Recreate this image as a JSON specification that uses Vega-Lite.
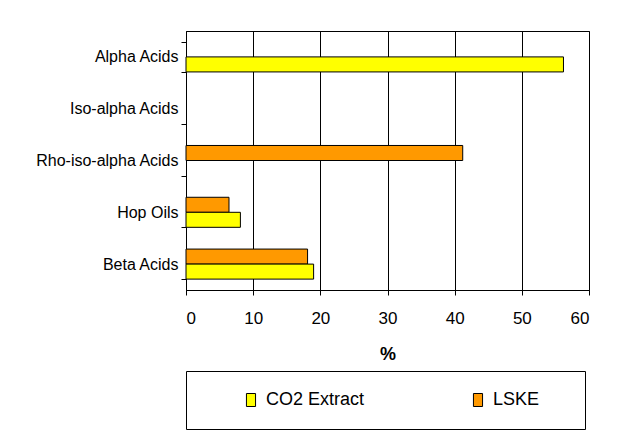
{
  "$schema": "https://vega.github.io/schema/vega-lite/v6.json",
  "width": 403,
  "height": 259,
  "autosize": {"type": "none"},
  "padding": {"left": 186, "top": 31, "right": 31, "bottom": 157},
  "background": "white",
  "data": {
    "values": [
      {"component": "Alpha Acids", "product": "CO2 Extract", "percent": 56.2},
      {"component": "Rho-iso-alpha Acids", "product": "LSKE", "percent": 41.2},
      {"component": "Hop Oils", "product": "LSKE", "percent": 6.4},
      {"component": "Hop Oils", "product": "CO2 Extract", "percent": 8.1},
      {"component": "Beta Acids", "product": "LSKE", "percent": 18.1},
      {"component": "Beta Acids", "product": "CO2 Extract", "percent": 19.0}
    ]
  },
  "mark": {"type": "bar", "stroke": "black", "strokeWidth": 1},
  "encoding": {
    "y": {
      "field": "component",
      "type": "nominal",
      "scale": {
        "domain": ["Alpha Acids", "Iso-alpha Acids", "Rho-iso-alpha Acids", "Hop Oils", "Beta Acids"],
        "paddingInner": 0.42,
        "paddingOuter": 0.21
      },
      "axis": {
        "title": null,
        "tickBand": "extent",
        "labelFontSize": 16,
        "labelColor": "black",
        "tickColor": "black",
        "domainColor": "black",
        "tickSize": 5,
        "labelPadding": 3,
        "grid": false
      }
    },
    "yOffset": {
      "field": "product",
      "type": "nominal",
      "sort": ["LSKE", "CO2 Extract"],
      "scale": {"paddingInner": 0, "paddingOuter": 0}
    },
    "x": {
      "field": "percent",
      "type": "quantitative",
      "scale": {"domain": [0, 60], "nice": false},
      "axis": {
        "values": [0, 10, 20, 30, 40, 50, 60],
        "title": "%",
        "titleFontSize": 18,
        "titleFontWeight": "bold",
        "titleColor": "black",
        "titlePadding": 19,
        "grid": true,
        "gridColor": "black",
        "gridOpacity": 1,
        "labelFontSize": 17,
        "labelColor": "black",
        "labelPadding": 15,
        "tickColor": "black",
        "domainColor": "black",
        "tickSize": 5
      }
    },
    "color": {
      "field": "product",
      "type": "nominal",
      "scale": {"domain": ["CO2 Extract", "LSKE"], "range": ["#FFFF00", "#FF9900"]},
      "legend": {
        "title": " ",
        "titleOrient": "right",
        "titlePadding": 26,
        "titleFontSize": 18,
        "orient": "none",
        "legendX": 0,
        "legendY": 340,
        "direction": "horizontal",
        "padding": 20,
        "strokeColor": "black",
        "fillColor": "white",
        "symbolType": "M-0.7,-1H0.7V1H-0.7Z",
        "symbolSize": 169,
        "symbolStrokeColor": "black",
        "symbolStrokeWidth": 1,
        "symbolOpacity": 1,
        "symbolOffset": 36,
        "labelOffset": 6,
        "columnPadding": 68,
        "labelFontSize": 18,
        "labelColor": "black"
      }
    }
  },
  "config": {
    "font": "Liberation Sans, Arial, sans-serif",
    "view": {"stroke": "black", "strokeWidth": 1}
  }
}
